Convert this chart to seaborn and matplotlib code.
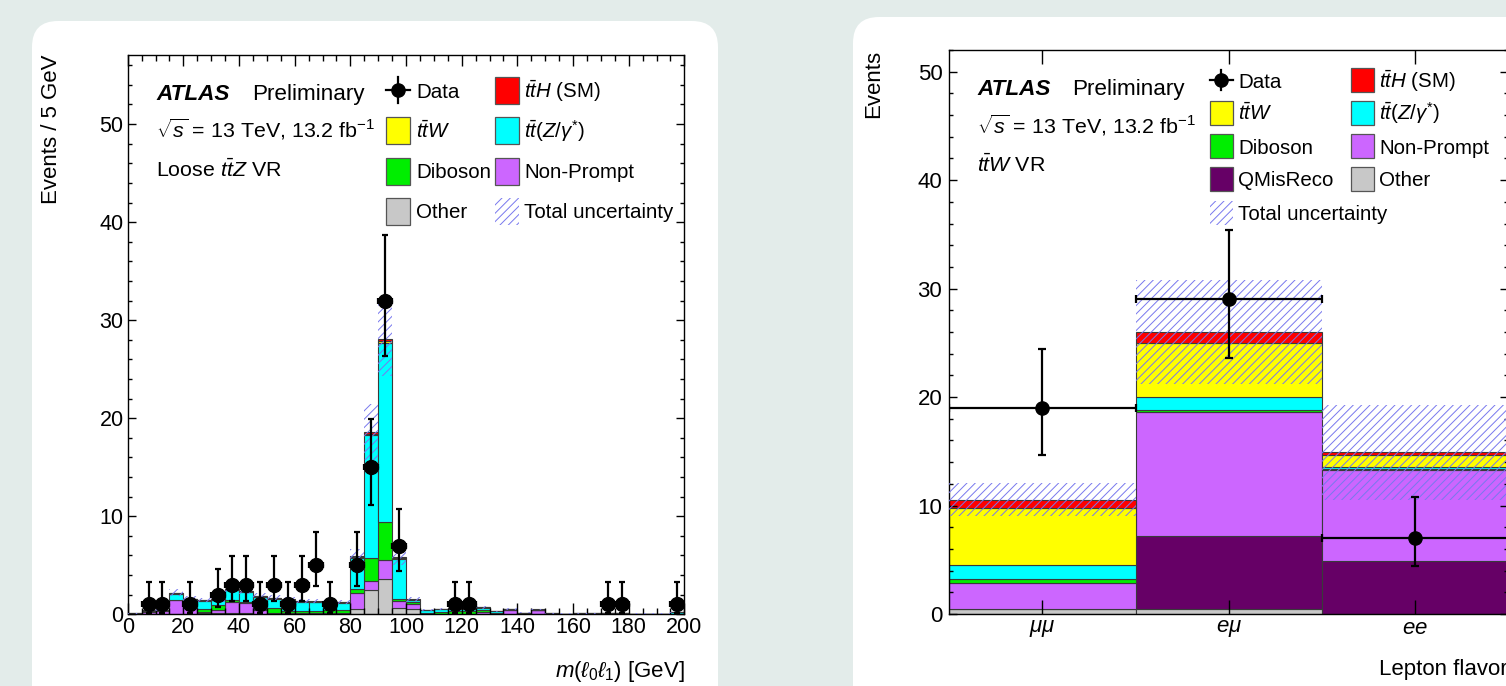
import numpy as np
import pandas as pd
import matplotlib
matplotlib.use("Agg")
import matplotlib.pyplot as plt
import seaborn as sns
from matplotlib.patches import FancyBboxPatch, Rectangle
from matplotlib.ticker import MultipleLocator, FixedLocator, NullLocator

# ---------------------------------------------------------------- data ----
# Left panel: m(l0 l1) in 5 GeV bins from 0 to 200 GeV
mll_edges = np.arange(0, 205, 5)
other_L = [0.00, 0.00, 0.00, 0.05, 0.05, 0.10, 0.10, 0.10, 0.10, 0.05,
           0.05, 0.05, 0.05, 0.05, 0.05, 0.05, 0.58, 2.50, 3.64, 0.60,
           0.55, 0.03, 0.03, 0.03, 0.03, 0.03, 0.02, 0.03, 0.02, 0.02,
           0.01, 0.01, 0.01, 0.01, 0.01, 0.01, 0.01, 0.01, 0.01, 0.01]
nonprompt_L = [0.05, 0.25, 0.30, 1.40, 1.00, 0.10, 0.35, 1.20, 1.10, 0.35,
               0.10, 0.10, 0.10, 0.05, 0.05, 0.05, 1.55, 0.85, 1.94, 0.76,
               0.55, 0.05, 0.05, 0.05, 0.05, 0.25, 0.02, 0.40, 0.05, 0.38,
               0.05, 0.03, 0.05, 0.05, 0.10, 0.10, 0.03, 0.03, 0.03, 0.03]
diboson_L = [0.00, 0.02, 0.02, 0.05, 0.05, 0.35, 0.45, 0.15, 0.10, 0.15,
             0.45, 0.15, 0.15, 0.25, 0.30, 0.30, 0.50, 2.35, 3.84, 0.24,
             0.12, 0.10, 0.20, 0.25, 0.30, 0.15, 0.05, 0.02, 0.02, 0.02,
             0.01, 0.01, 0.01, 0.01, 0.01, 0.01, 0.01, 0.01, 0.01, 0.02]
ttz_L = [0.05, 0.10, 0.10, 0.60, 0.45, 0.85, 0.55, 1.00, 1.00, 1.25,
         1.00, 1.15, 1.00, 0.90, 0.80, 0.80, 3.10, 12.60, 18.30, 4.05,
         0.25, 0.25, 0.25, 0.25, 0.20, 0.25, 0.20, 0.08, 0.05, 0.05,
         0.03, 0.03, 0.02, 0.02, 0.03, 0.02, 0.02, 0.02, 0.02, 0.15]
ttw_L = [0.00, 0.02, 0.02, 0.05, 0.03, 0.03, 0.03, 0.05, 0.05, 0.05,
         0.05, 0.05, 0.05, 0.04, 0.04, 0.04, 0.10, 0.10, 0.15, 0.05,
         0.02, 0.02, 0.02, 0.02, 0.02, 0.02, 0.01, 0.01, 0.01, 0.01,
         0.00, 0.00, 0.00, 0.00, 0.00, 0.00, 0.00, 0.00, 0.00, 0.00]
tth_L = [0.00, 0.01, 0.01, 0.05, 0.03, 0.03, 0.03, 0.05, 0.05, 0.05,
         0.05, 0.05, 0.05, 0.04, 0.04, 0.04, 0.12, 0.20, 0.25, 0.10,
         0.02, 0.01, 0.01, 0.01, 0.01, 0.01, 0.01, 0.01, 0.00, 0.01,
         0.00, 0.00, 0.00, 0.00, 0.00, 0.00, 0.00, 0.00, 0.00, 0.00]
unc_L = [0.05, 0.10, 0.10, 0.35, 0.25, 0.25, 0.25, 0.35, 0.35, 0.30,
         0.25, 0.25, 0.20, 0.20, 0.20, 0.20, 0.70, 2.90, 3.80, 0.80,
         0.25, 0.10, 0.10, 0.10, 0.10, 0.12, 0.06, 0.10, 0.04, 0.10,
         0.03, 0.03, 0.03, 0.03, 0.03, 0.03, 0.03, 0.03, 0.03, 0.05]
data_L = [0, 1, 1, 0, 1, 0, 2, 3, 3, 1,
          3, 1, 3, 5, 1, 0, 5, 15, 32, 7,
          0, 0, 0, 1, 1, 0, 0, 0, 0, 0,
          0, 0, 0, 0, 1, 1, 0, 0, 0, 1]
err_down = {1: 0.83, 2: 1.29, 3: 1.63, 5: 2.16, 7: 2.58, 15: 3.87, 32: 5.62}
err_up = {1: 2.30, 2: 2.64, 3: 2.92, 5: 3.38, 7: 3.77, 15: 4.97, 32: 6.71}

# Right panel: lepton flavour categories
flavors = [r"$\mu\mu$", r"$e\mu$", r"$ee$"]
flav_edges = np.array([0, 1, 2, 3])
other_R = [0.46, 0.46, 0.02]
qmis_R = [0.00, 6.69, 4.90]
nonprompt_R = [2.36, 11.45, 8.38]
diboson_R = [0.40, 0.20, 0.10]
ttz_R = [1.26, 1.20, 0.15]
ttw_R = [5.32, 5.00, 1.15]
tth_R = [0.75, 1.00, 0.20]
unc_R = [1.50, 4.75, 4.40]
data_R = [19, 29, 7]
data_R_down = [4.30, 5.40, 2.55]
data_R_up = [5.40, 6.40, 3.80]

# ---------------------------------------------------------------- style ---
plt.rcParams.update({
    "font.family": ["Liberation Sans", "DejaVu Sans"],
    "mathtext.fontset": "custom",
    "mathtext.rm": "Liberation Sans",
    "mathtext.it": "Liberation Sans:italic",
    "mathtext.bf": "Liberation Sans:bold",
    "mathtext.sf": "Liberation Sans",
    "hatch.linewidth": 0.7,
})

W, H = 1506, 686
BG = "#e3ecea"
HATCH = "#7878ee"
EDGE = "#3a3a3a"
colors = {"ttH": "#ff0000", "ttW": "#ffff00", "ttZ": "#00ffff",
          "Diboson": "#00ee00", "Non-Prompt": "#cc66ff",
          "QMisReco": "#660066", "Other": "#c8c8c8"}
labels = {"ttH": r"$t\bar{t}H$ (SM)", "ttW": r"$t\bar{t}W$",
          "ttZ": r"$t\bar{t}(Z/\gamma^{*})$", "Diboson": "Diboson",
          "Non-Prompt": "Non-Prompt", "QMisReco": "QMisReco", "Other": "Other"}

fig = plt.figure(figsize=(W / 100, H / 100), dpi=100)
fig.patch.set_facecolor(BG)

# background cards (pixel coordinates)
bg = fig.add_axes([0, 0, 1, 1], zorder=-10)
bg.set_xlim(0, W); bg.set_ylim(H, 0); bg.axis("off")
bg.add_patch(FancyBboxPatch((32, 21), 686, 700, boxstyle="round,pad=0,rounding_size=26",
                            fc="white", ec="none"))
bg.add_patch(FancyBboxPatch((853, 17), 720, 700, boxstyle="round,pad=0,rounding_size=26",
                            fc="white", ec="none"))

axL = fig.add_axes([127.7 / W, (H - 614.3) / H, (684.4 - 127.7) / W, (614.3 - 54.5) / H])
axR = fig.add_axes([949.3 / W, (H - 614.0) / H, (1508 - 949.3) / W, (614.0 - 50.0) / H])


def draw_stack(ax, edges, comps):
    centers = (edges[:-1] + edges[1:]) / 2
    order = list(comps.keys())  # top first
    rows = []
    for name in order:
        for c, v in zip(centers, comps[name]):
            rows.append((c, v, name))
    df = pd.DataFrame(rows, columns=["x", "w", "comp"])
    sns.histplot(data=df, x="x", weights="w", hue="comp", hue_order=order,
                 multiple="stack", bins=[float(e) for e in edges], palette=colors,
                 alpha=1, edgecolor=EDGE, linewidth=0.8, legend=False, ax=ax)
    total = np.sum([np.asarray(v) for v in comps.values()], axis=0)
    return centers, total


# ---- left panel
compsL = {"ttH": tth_L, "ttW": ttw_L, "ttZ": ttz_L, "Diboson": diboson_L,
          "Non-Prompt": nonprompt_L, "Other": other_L}
cL, totL = draw_stack(axL, mll_edges, compsL)
uL = np.asarray(unc_L)
axL.bar(cL, 2 * uL, bottom=totL - uL, width=5, fill=False, hatch="////",
        edgecolor=HATCH, linewidth=0, zorder=3)
dL = np.asarray(data_L)
nz = dL > 0
yerrL = [[err_down[d] for d in dL[nz]], [err_up[d] for d in dL[nz]]]
axL.errorbar(cL[nz], dL[nz], yerr=yerrL, xerr=2.5, fmt="o", color="black",
             ms=10, elinewidth=1.6, capsize=2.5, capthick=1.6, zorder=5)
axL.set_xlim(0, 200)
axL.set_ylim(0, 57.1)

# ---- right panel
compsR = {"ttH": tth_R, "ttW": ttw_R, "ttZ": ttz_R, "Diboson": diboson_R,
          "Non-Prompt": nonprompt_R, "QMisReco": qmis_R, "Other": other_R}
cR, totR = draw_stack(axR, flav_edges, compsR)
uR = np.asarray(unc_R)
axR.bar(cR, 2 * uR, bottom=totR - uR, width=1, fill=False, hatch="////",
        edgecolor=HATCH, linewidth=0, zorder=3)
axR.errorbar(cR, data_R, yerr=[data_R_down, data_R_up], xerr=0.5, fmt="o",
             color="black", ms=9.5, elinewidth=1.6, capsize=3, capthick=1.6, zorder=5)
axR.set_xlim(0, 3)
axR.set_ylim(0, 52)

# ---- axes cosmetics
for ax in (axL, axR):
    ax.set_facecolor("white")
    for s in ax.spines.values():
        s.set_linewidth(1.0)
        s.set_color("black")
    ax.tick_params(which="both", direction="in", top=True, right=True,
                   color="black", width=1.0)
    ax.yaxis.set_major_locator(MultipleLocator(10))
    ax.yaxis.set_minor_locator(MultipleLocator(2))
    ax.tick_params(axis="y", which="major", length=6, pad=3)
    ax.tick_params(axis="y", which="minor", length=3)

axL.xaxis.set_major_locator(MultipleLocator(20))
axL.xaxis.set_minor_locator(MultipleLocator(5))
axL.tick_params(axis="x", which="major", length=8, pad=2)
axL.tick_params(axis="x", which="minor", length=4)
axL.tick_params(axis="both", labelsize=15.5)

axR.xaxis.set_major_locator(FixedLocator(cR))
axR.xaxis.set_minor_locator(NullLocator())
axR.set_xticklabels(flavors)
axR.tick_params(axis="x", which="major", length=10, pad=3)
axR.tick_params(axis="both", labelsize=16)
axR.tick_params(axis="y", pad=5)

# axis titles
axL.set_xlabel(r"$m(\ell_{0}\ell_{1})$ [GeV]", fontsize=16, loc="right")
axL.xaxis.label.set_va("baseline")
axL.xaxis.set_label_coords(1.0, -(677 - 614.3) / 559.8)
axL.set_ylabel("Events / 5 GeV", fontsize=16, loc="top")
axL.yaxis.label.set_va("baseline")
axL.yaxis.set_label_coords((57 - 127.7) / 556.7, 1.0)

axR.set_xlabel("Lepton flavor", fontsize=16, loc="right")
axR.xaxis.label.set_va("baseline")
axR.xaxis.set_label_coords(1.0, -(675 - 614) / 564)
axR.set_ylabel("Events", fontsize=16, loc="top")
axR.yaxis.label.set_va("baseline")
axR.yaxis.set_label_coords((879 - 949.3) / 558.7, 1.0)

# ---------------------------------------------------- overlay: labels ----
fg = fig.add_axes([0, 0, 1, 1], zorder=10)
fg.set_xlim(0, W); fg.set_ylim(H, 0); fg.axis("off")

LFS = 14.8
AFS = 16.2


def atlas_block(x, y0, y1, y2, xprelim, region):
    fg.text(x, y0, "ATLAS", fontsize=AFS, fontweight="bold", fontstyle="italic", va="baseline")
    fg.text(xprelim, y0, "Preliminary", fontsize=AFS, va="baseline")
    fg.text(x, y1, r"$\sqrt{s}$ = 13 TeV, 13.2 fb$^{-1}$", fontsize=AFS - 0.8, va="baseline")
    fg.text(x, y2, region, fontsize=AFS - 0.8, va="baseline")


def leg_data(x0, yc, w, half):
    xc = x0 + w / 2
    fg.plot([x0, x0 + w], [yc, yc], color="black", lw=1.6)
    fg.plot([xc, xc], [yc - half, yc + half], color="black", lw=1.6)
    fg.plot([xc], [yc], "o", color="black", ms=9.5)


def leg_box(x0, yc, w, h, key):
    fg.add_patch(Rectangle((x0, yc - h / 2), w, h, facecolor=colors[key],
                           edgecolor="#555555", lw=0.9))


def leg_hatch(x0, yc, w, h):
    fg.add_patch(Rectangle((x0, yc - h / 2), w, h, fill=False, hatch="////",
                           edgecolor=HATCH, lw=0))


def leg_text(x, yc, s):
    fg.text(x, yc + 7.5, s, fontsize=LFS, va="baseline")


# left legend / labels
atlas_block(156, 100, 138, 177, 252, r"Loose $t\bar{t}Z$ VR")
rowsL = [90, 130, 171, 211]
c1, c2, bw, bh = 386, 495, 24, 27
leg_data(c1, rowsL[0], bw, 13); leg_text(c1 + bw + 6, rowsL[0], "Data")
leg_box(c2, rowsL[0], bw, bh, "ttH"); leg_text(c2 + bw + 5, rowsL[0], labels["ttH"])
leg_box(c1, rowsL[1], bw, bh, "ttW"); leg_text(c1 + bw + 6, rowsL[1], labels["ttW"])
leg_box(c2, rowsL[1], bw, bh, "ttZ"); leg_text(c2 + bw + 5, rowsL[1], labels["ttZ"])
leg_box(c1, rowsL[2], bw, bh, "Diboson"); leg_text(c1 + bw + 6, rowsL[2], "Diboson")
leg_box(c2, rowsL[2], bw, bh, "Non-Prompt"); leg_text(c2 + bw + 5, rowsL[2], "Non-Prompt")
leg_box(c1, rowsL[3], bw, bh, "Other"); leg_text(c1 + bw + 6, rowsL[3], "Other")
leg_hatch(c2, rowsL[3], bw, bh); leg_text(c2 + bw + 5, rowsL[3], "Total uncertainty")

# right legend / labels
atlas_block(977, 95, 133, 172, 1072, r"$t\bar{t}W$ VR")
rowsR = [80, 113, 146, 179, 213]
d1, d2, bw, bh = 1210, 1351, 23, 24
leg_data(d1, rowsR[0], bw, 10); leg_text(d1 + bw + 5, rowsR[0], "Data")
leg_box(d2, rowsR[0], bw, bh, "ttH"); leg_text(d2 + bw + 5, rowsR[0], labels["ttH"])
leg_box(d1, rowsR[1], bw, bh, "ttW"); leg_text(d1 + bw + 5, rowsR[1], labels["ttW"])
leg_box(d2, rowsR[1], bw, bh, "ttZ"); leg_text(d2 + bw + 5, rowsR[1], labels["ttZ"])
leg_box(d1, rowsR[2], bw, bh, "Diboson"); leg_text(d1 + bw + 5, rowsR[2], "Diboson")
leg_box(d2, rowsR[2], bw, bh, "Non-Prompt"); leg_text(d2 + bw + 5, rowsR[2], "Non-Prompt")
leg_box(d1, rowsR[3], bw, bh, "QMisReco"); leg_text(d1 + bw + 5, rowsR[3], "QMisReco")
leg_box(d2, rowsR[3], bw, bh, "Other"); leg_text(d2 + bw + 5, rowsR[3], "Other")
leg_hatch(d1, rowsR[4], bw, bh); leg_text(d1 + bw + 5, rowsR[4], "Total uncertainty")

fig.savefig("out.png", dpi=100, facecolor=BG)
